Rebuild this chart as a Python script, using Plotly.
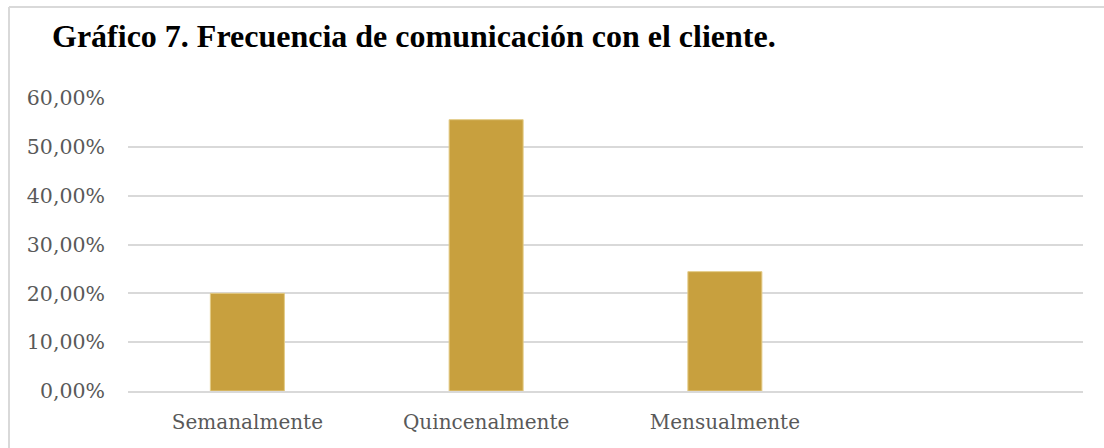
import plotly.graph_objects as go

categories = ["Semanalmente", "Quincenalmente", "Mensualmente"]
values = [0.2000, 0.5556, 0.2444]
tick_vals = [0, 0.1, 0.2, 0.3, 0.4, 0.5, 0.6]
tick_text = ["0,00%", "10,00%", "20,00%", "30,00%", "40,00%", "50,00%", "60,00%"]

W, H = 1104, 448
L, R, T, B = 128, 21, 98, 57
pw, ph = W - L - R, H - T - B

fig = go.Figure(go.Bar(
    x=categories,
    y=values,
    marker=dict(color="#C8A03E", line=dict(color="#E3CB86", width=1)),
    width=0.31,
))

# frame lines (top and left only, as in the reference)
fx0 = (9 - L) / pw
fy_top = (H - B - 7) / ph
fig.add_shape(type="line", xref="paper", yref="paper",
              x0=fx0, x1=(W - L) / pw + 0.01, y0=fy_top, y1=fy_top,
              line=dict(color="#d9d9d9", width=2))
fig.add_shape(type="line", xref="paper", yref="paper",
              x0=fx0, x1=fx0, y0=fy_top, y1=-B / ph - 0.01,
              line=dict(color="#d9d9d9", width=2))

fig.update_layout(
    width=W, height=H,
    margin=dict(l=L, r=R, t=T, b=B),
    paper_bgcolor="white", plot_bgcolor="white",
    showlegend=False,
    title=dict(text="<b>Gráfico 7. Frecuencia de comunicación con el cliente.</b>",
               x=52 / W, xref="container", xanchor="left",
               y=1 - 36 / H, yref="container", yanchor="middle",
               font=dict(family="Liberation Serif", size=32, color="black")),
    xaxis=dict(type="category", range=[-0.5, 3.5], showgrid=False,
               showline=True, linecolor="#d9d9d9", linewidth=2,
               ticks="", ticklabelstandoff=12,
               tickfont=dict(family="DejaVu Serif", size=20, color="#595959")),
    yaxis=dict(range=[0, 0.6], tickvals=tick_vals, ticktext=tick_text,
               showgrid=True, gridcolor="#d9d9d9", gridwidth=1.5,
               zeroline=False, showline=False, ticks="",
               ticklabelstandoff=22,
               tickfont=dict(family="DejaVu Serif", size=20.5, color="#595959")),
)

fig.write_html("out.html", config={"displayModeBar": False},
               post_script="document.body.style.margin='0';")
